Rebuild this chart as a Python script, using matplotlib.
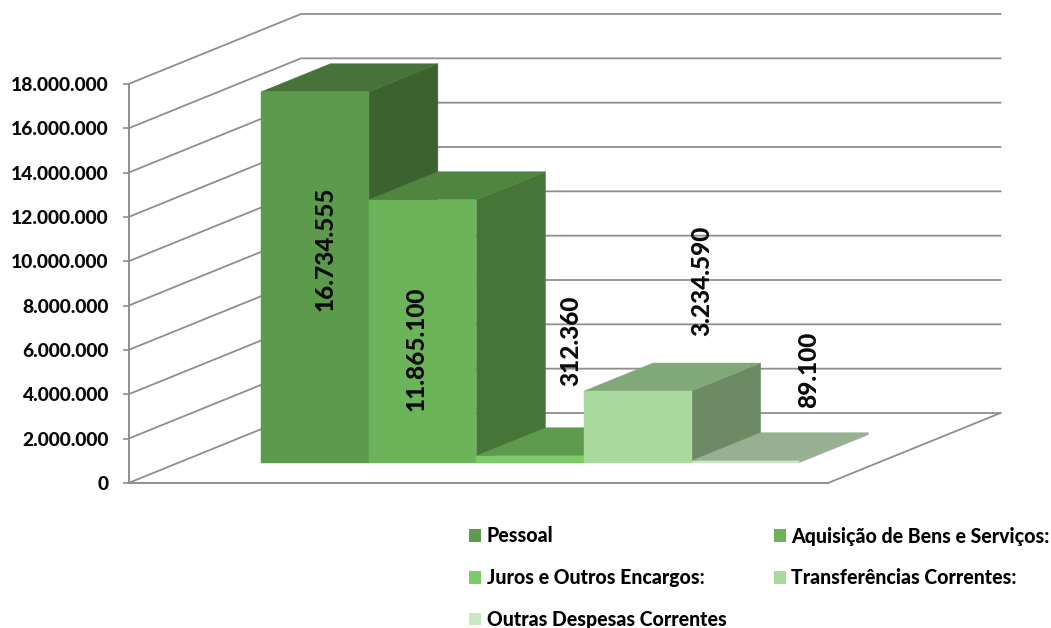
import matplotlib
matplotlib.use("Agg")
import matplotlib.pyplot as plt
from matplotlib.patches import Polygon, Patch

# ---- data ----
series_names = ["Pessoal", "Aquisição de Bens e Serviços:", "Juros e Outros Encargos:",
                "Transferências Correntes:", "Outras Despesas Correntes"]
series_values = [16734555, 11865100, 312360, 3234590, 89100]
value_labels = ["16.734.555", "11.865.100", "312.360", "3.234.590", "89.100"]
axis_ticks = [0, 2000000, 4000000, 6000000, 8000000, 10000000, 12000000, 14000000, 16000000, 18000000]
tick_labels = ["0", "2.000.000", "4.000.000", "6.000.000", "8.000.000", "10.000.000",
               "12.000.000", "14.000.000", "16.000.000", "18.000.000"]

# ---- style ----
W, H = 1051, 628
front_colors = ["#5C9B4C", "#6BB45A", "#7CCB69", "#A9D99D", "#C9E7C1"]
top_colors = ["#47733A", "#50853F", "#5E9B4C", "#80A878", "#98B092"]
side_colors = ["#3C622F", "#477537", "#5E9B4C", "#6C8B65", "#98B092"]
label_offsets_px = [(10, 28), (-7, -18), (40, 118), (64, 146), (63, 92)]
grid_color = "#8E8E8E"
plt.rcParams["font.family"] = ["Lato", "DejaVu Sans"]
plt.rcParams["font.weight"] = "black"

fig = plt.figure(figsize=(W / 100, H / 100), dpi=100, facecolor="white")
ax = fig.add_axes([128.5 / W, (H - 483) / H, 699.5 / W, 399 / H])
ax.set_xlim(0, 1)
ax.set_ylim(0, 18000000)

# oblique projection: a point at depth d (0 = front, 1 = back wall)
wall_dx = 172.5 / 699.5
wall_dy = 70 / 399 * 18000000


def proj(x, v, d):
    return (x + d * wall_dx, v + d * wall_dy)


# walls and floor
for v in axis_ticks:
    ax.plot(*zip(proj(0, v, 0), proj(0, v, 1), proj(1, v, 1)), color=grid_color, lw=1.3,
            clip_on=False, zorder=1, solid_joinstyle="miter")
ax.plot(*zip(proj(1, 0, 0), proj(1, 0, 1)), color=grid_color, lw=1.3, clip_on=False, zorder=1)

# bars
bar_w = 107.6 / 699.5
d0, d1 = 0.29, 0.69
start = 0.5 - len(series_values) * bar_w / 2 + 2 / 699.5
for i, val in enumerate(series_values):
    xl, xr = start + i * bar_w, start + (i + 1) * bar_w
    z = 3 + i
    faces = [
        ([proj(xr, 0, d0), proj(xr, 0, d1), proj(xr, val, d1), proj(xr, val, d0)], side_colors[i]),
        ([proj(xl, val, d0), proj(xr, val, d0), proj(xr, val, d1), proj(xl, val, d1)], top_colors[i]),
        ([proj(xl, 0, d0), proj(xr, 0, d0), proj(xr, val, d0), proj(xl, val, d0)], front_colors[i]),
    ]
    for pts, col in faces:
        ax.add_patch(Polygon(pts, closed=True, facecolor=col, edgecolor=col, lw=0.3,
                             clip_on=False, zorder=z))
    ax.annotate(value_labels[i], xy=proj((xl + xr) / 2, val / 2, d0),
                xytext=(label_offsets_px[i][0] * 0.72, label_offsets_px[i][1] * 0.72),
                textcoords="offset points", rotation=90, ha="center", va="center",
                fontsize=17.6, fontweight="black", color="#0A0A0A", zorder=20, annotation_clip=False)

# axis
for s in ["top", "right"]:
    ax.spines[s].set_visible(False)
for s in ["left", "bottom"]:
    ax.spines[s].set_color(grid_color)
    ax.spines[s].set_linewidth(1.4)
    ax.spines[s].set_zorder(2)
ax.patch.set_alpha(0)
ax.set_xticks([])
ax.set_yticks(axis_ticks)
ax.set_yticklabels(tick_labels, fontsize=13.9, fontweight="black", color="#0A0A0A")
ax.tick_params(axis="y", length=4.5, width=1.2, color=grid_color, pad=10)

# legend: columns fill first, so reorder to read row by row
order = [0, 2, 4, 1, 3]
handles = [Patch(facecolor=front_colors[i], edgecolor="none", label=series_names[i]) for i in order]
leg = fig.legend(handles=handles, ncol=2, loc="upper left",
                 bbox_to_anchor=(469 / W, 1 - 526.5 / H), bbox_transform=fig.transFigure,
                 frameon=False, prop={"family": "Lato", "weight": "black", "size": 14.05},
                 handlelength=0.62, handleheight=0.62, handletextpad=0.29,
                 labelspacing=1.16, columnspacing=2.42, borderpad=0, borderaxespad=0)

fig.savefig("out.png", dpi=100, facecolor="white")
